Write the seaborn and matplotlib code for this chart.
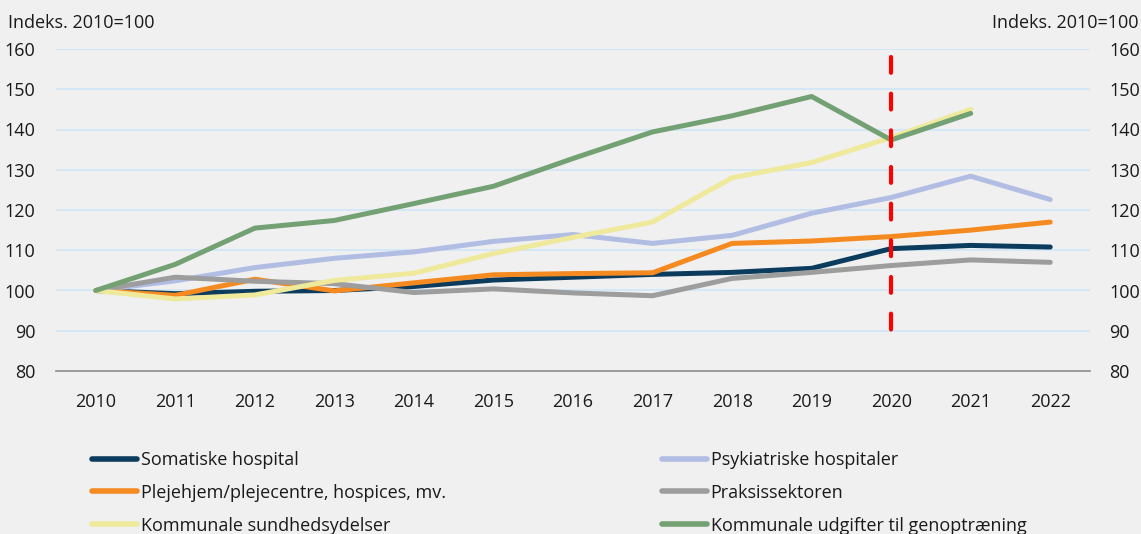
import pandas as pd
import seaborn as sns
import numpy as np
import matplotlib.pyplot as plt
from matplotlib.lines import Line2D

# Data (index, 2010 = 100)
years = list(range(2010, 2023))
somatiske = [100, 99.2, 99.8, 100.0, 101.0, 102.6, 103.3, 104.0, 104.5, 105.5, 110.4, 111.2, 110.8]
psykiatriske = [100, 102.4, 105.7, 108.0, 109.6, 112.2, 113.9, 111.7, 113.7, 119.2, 123.1, 128.4, 122.6]
plejehjem = [100, 98.8, 102.8, 99.9, 101.9, 103.9, 104.2, 104.4, 111.7, 112.3, 113.4, 115.0, 117.0]
praksis = [100, 103.3, 102.3, 101.7, 99.5, 100.4, 99.4, 98.7, 103.0, 104.5, 106.2, 107.6, 107.0]
kommunale = [100, 97.9, 98.9, 102.5, 104.3, 109.2, 113.2, 117.0, 128.0, 131.8, 138.0, 145.0, np.nan]
genoptraening = [100, 106.5, 115.5, 117.4, 121.6, 125.9, 132.8, 139.4, 143.4, 148.2, 137.4, 144.0, np.nan]

series_names = ["Somatiske hospital", "Psykiatriske hospitaler",
                "Plejehjem/plejecentre, hospices, mv.", "Praksissektoren",
                "Kommunale sundhedsydelser", "Kommunale udgifter til genoptræning"]
series_values = [somatiske, psykiatriske, plejehjem, praksis, kommunale, genoptraening]
colors = ["#0b3c5d", "#b1bde3", "#f58a20", "#9d9d9d", "#efe99c", "#74a173"]

yticks = list(range(80, 161, 10))
marker_year = 2020
marker_span = (158, 86.5)

# Long format for seaborn
rows = []
for name, vals in zip(series_names, series_values):
    for y, v in zip(years, vals):
        rows.append({"Year": y, "Index": v, "Serie": name})
data = pd.DataFrame(rows).dropna()

sns.set_style("white")
plt.rcParams['font.family'] = ['Open Sans', 'DejaVu Sans']
plt.rcParams['text.color'] = '#1a1a1a'
bg = '#f0f0f0'
fs = 13

fig = plt.figure(figsize=(11.41, 5.34), dpi=100, facecolor=bg)
ax = fig.add_axes([56/1141, 1 - 371/534, (1090 - 56)/1141, (371 - 49)/534])
ax.set_facecolor(bg)

# Grid lines
for t in yticks[1:]:
    ax.axhline(t, color='#cfe6f8', linewidth=1.2, zorder=0)

sns.lineplot(data=data, x="Year", y="Index", hue="Serie", hue_order=series_names,
             palette=dict(zip(series_names, colors)), linewidth=3.6,
             estimator=None, errorbar=None, legend=False, ax=ax,
             solid_capstyle='round', solid_joinstyle='round')

# Red dashed marker (drawn top-down so the dash pattern starts at the top)
ax.plot([marker_year, marker_year], list(marker_span), color='#ff0000', linewidth=3,
        linestyle=(0, (3.8, 5.0)), dash_capstyle='round', zorder=5)

ax.set_xlim(2009.5, 2022.5)
ax.set_ylim(80, 160)
ax.set_xticks(years)
ax.set_yticks(yticks)
ax.set_xlabel('')
ax.set_ylabel('')
for s in ['top', 'left', 'right']:
    ax.spines[s].set_visible(False)
ax.spines['bottom'].set_color('#8c8c8c')
ax.spines['bottom'].set_linewidth(1.2)
ax.tick_params(axis='both', length=0, labelsize=fs, colors='#1a1a1a')
ax.tick_params(axis='y', pad=15)
ax.tick_params(axis='x', pad=16)

# Right axis copy
ax2 = ax.twinx()
ax2.set_ylim(80, 160)
ax2.set_yticks(yticks)
for s in ['top', 'left', 'right', 'bottom']:
    ax2.spines[s].set_visible(False)
ax2.tick_params(axis='y', length=0, labelsize=fs, colors='#1a1a1a', pad=14)

fig.text(8/1141, 1 - 28/534, 'Indeks. 2010=100', fontsize=fs, ha='left', va='baseline')
fig.text(1139/1141, 1 - 28/534, 'Indeks. 2010=100', fontsize=fs, ha='right', va='baseline')

# Legend in two columns
def make_handle(c):
    return Line2D([0], [0], color=c, linewidth=4, solid_capstyle='round')

left_idx = [0, 2, 4]
right_idx = [1, 3, 5]
for idx, xpos in [(left_idx, 92/1141), (right_idx, 662/1141)]:
    leg = fig.legend([make_handle(colors[i]) for i in idx], [series_names[i] for i in idx],
                     loc='upper left', bbox_to_anchor=(xpos, 1 - 451/534), frameon=False,
                     fontsize=fs, handlelength=2.5, handletextpad=0.2, labelspacing=0.82,
                     borderpad=0, borderaxespad=0)

fig.savefig('out.png', dpi=100, facecolor=bg)
